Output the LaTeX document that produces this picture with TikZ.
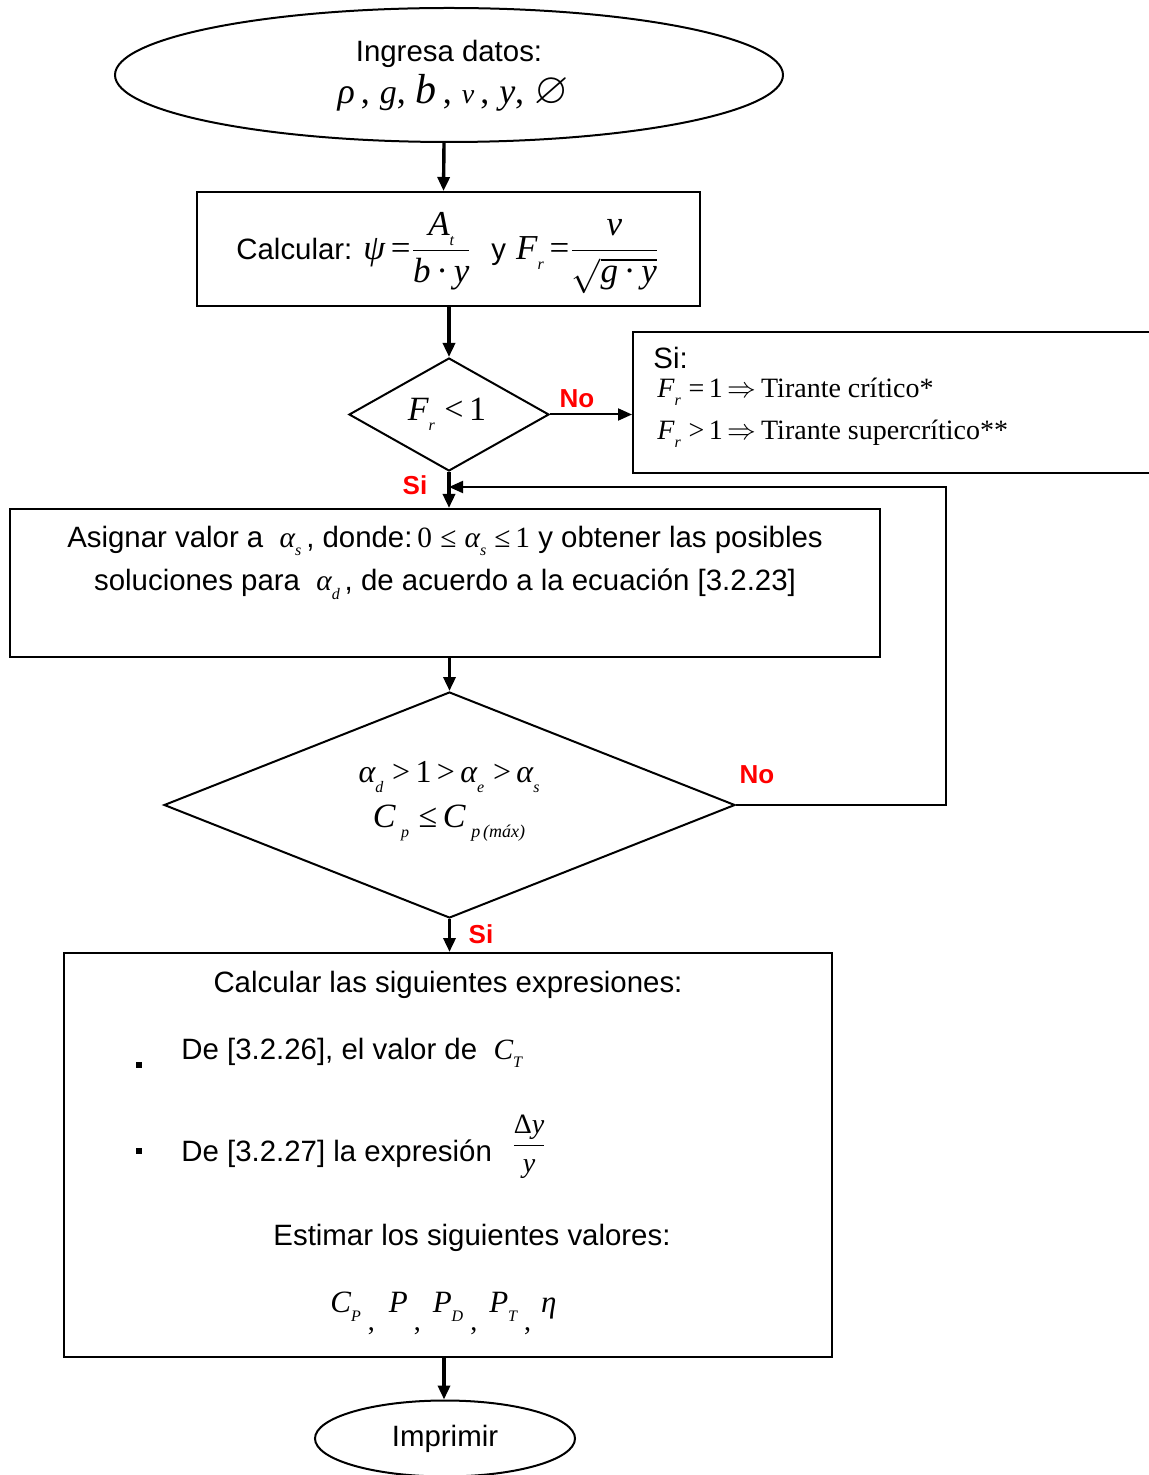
\documentclass[tikz,border=0pt]{standalone}
\usepackage{amsmath,amssymb}
\usepackage{fontspec}
\setmainfont{Liberation Sans}
\newfontfamily\tms{Liberation Serif}
\usetikzlibrary{shapes.geometric,arrows.meta}

% serif variables and subscripts in the formula style of the chart
\newcommand\vi[1]{{\tms\itshape #1}}
\newcommand\vr[1]{{\tms #1}}
\newcommand\sub[1]{\raisebox{-0.55ex}{\tms\itshape\fontsize{8}{8}\selectfont #1}}
\newcommand\lowcomma{\raisebox{-1.1ex}{\tms\fontsize{14}{14}\selectfont ,}}

\tikzset{
  box/.style={draw, line width=1pt, rectangle, inner sep=0pt},
  oval/.style={draw, line width=1pt, ellipse, inner sep=0pt},
  decision/.style={draw, line width=1pt, diamond, inner sep=0pt},
  txt/.style={inner sep=0pt, align=center, font=\fontsize{14.7}{17}\selectfont},
  flow/.style={line width=1.7pt, -{Triangle[length=7pt,width=6pt]}},
  thinflow/.style={line width=1pt, -{Triangle[length=7pt,width=6pt]}},
  answer/.style={inner sep=0pt, text=red, font=\fontsize{13}{15}\selectfont\bfseries},
}

\begin{document}
\begin{tikzpicture}[x=0.5pt,y=-0.5pt]
\useasboundingbox (0,0) rectangle (1148,1475);

% ---- shapes ----
\node[oval, minimum width=334pt, minimum height=67pt] (start) at (449,75) {};
\node[box, minimum width=251.5pt, minimum height=57pt] (calc) at (448.5,249) {};
\node[decision, minimum width=100pt, minimum height=56.5pt] (froude) at (449,414.5) {};
\node[box, minimum width=260pt, minimum height=70.5pt, anchor=north west] (note) at (632,331) {};
\node[box, minimum width=435pt, minimum height=74pt] (assign) at (445,583) {};
\node[decision, minimum width=285.5pt, minimum height=113pt] (check) at (449.5,805) {};
\node[box, minimum width=384pt, minimum height=202pt] (results) at (448,1155) {};
\node[oval, minimum width=130pt, minimum height=38pt] (stop) at (445,1438.5) {};

% ---- texts ----
\node[txt] (tstart1) at (449,54) {Ingresa datos:};
\node[txt, font=\fontsize{18}{20}\selectfont] (tstart2) at (453,93)
  {\vi{ρ}\,\vr{,}\ \vi{\fontsize{17}{17}\selectfont g}\vr{,}\ \vi{\fontsize{21}{21}\selectfont b}\,\vr{,}\ \vi{\fontsize{14}{14}\selectfont v}\,\vr{,}\ \vi{y}\vr{,}\ {\fontsize{22}{22}\selectfont$\varnothing$}};

\node[txt, anchor=west] (tcalc) at (236,253)
  {Calcular: \fontsize{17.5}{20}\selectfont
   $\mbox{\vi{ψ}\,\vr{=}}\dfrac{\mbox{\vi{A}\sub{t}}}{\mbox{\vi{b}\,\vr{·}\,\vi{y}}}$
   \fontsize{14.7}{17}\selectfont\hspace{5pt}y\hspace{5pt}\fontsize{17.5}{20}\selectfont
   $\mbox{\vi{F}\sub{r}\,\vr{=}}\dfrac{\mbox{\vi{v}}}{\sqrt{\mbox{\vi{g}\,\vr{·}\,\vi{y}}}}$};

\node[txt, font=\fontsize{17}{19}\selectfont] (tfroude) at (447,414) {\vi{F}\sub{r}\ \vr{<}\,\vr{1}};

\node[txt, anchor=west] (tnote0) at (653,358) {Si:};
\node[txt, anchor=west, font=\fontsize{14}{17}\selectfont] (tnote1) at (657,392)
  {\vi{F}\sub{r}\ \vr{=}\,\vr{1}\,$\Rightarrow$\,\vr{Tirante crítico*}};
\node[txt, anchor=west, font=\fontsize{14}{17}\selectfont] (tnote2) at (657,434)
  {\vi{F}\sub{r}\ \vr{>}\,\vr{1}\,$\Rightarrow$\,\vr{Tirante supercrítico**}};

\node[txt] (tassign1) at (445,541)
  {Asignar valor a \ \vi{α}\sub{s}\,, donde:\,\vr{0} \vr{≤} \vi{α}\sub{s}\ \vr{≤}\,\vr{1} y obtener las posibles};
\node[txt] (tassign2) at (445,584)
  {soluciones para \ \vi{α}\sub{d}\,, de acuerdo a la ecuación [3.2.23]};

\node[txt, font=\fontsize{16}{18}\selectfont] (tcheck1) at (449,777)
  {\vi{α}\sub{d}\ \vr{>}\,\vr{1}\,\vr{>}\,\vi{α}\sub{e}\ \vr{>}\,\vi{α}\sub{s}};
\node[txt, font=\fontsize{17}{19}\selectfont] (tcheck2) at (449,823)
  {\vi{C}\,\sub{p}\ \vr{≤}\,\vi{C}\,\raisebox{-0.55ex}{\tms\itshape\fontsize{9}{9}\selectfont p\,(máx)}};

\node[txt] (tres1) at (448,985) {Calcular las siguientes expresiones:};
\node[fill, inner sep=0pt, minimum size=3pt] (bul1) at (139,1065) {};
\node[txt, anchor=west] (tres2) at (181,1053)
  {De [3.2.26], el valor de \ \vi{C}\sub{T}};
\node[fill, inner sep=0pt, minimum size=3pt] (bul2) at (139,1151) {};
\node[txt, anchor=west] (tres3) at (181,1154) {De [3.2.27] la expresión};
\node[txt, font=\fontsize{14}{16}\selectfont] (tfrac) at (529,1147)
  {$\dfrac{\mbox{\vr{Δ}\vi{y}}}{\mbox{\vi{y}}}$};
\node[txt] (tres4) at (472,1238) {Estimar los siguientes valores:};
\node[txt, font=\fontsize{15.5}{17}\selectfont, anchor=base west] (tres5) at (330,1312)
  {\vi{C}\sub{P}\hspace{3.5pt}\lowcomma\hspace{7pt}\vi{P}\hspace{3pt}\lowcomma\hspace{6pt}\vi{P}\sub{D}\hspace{3.5pt}\lowcomma\hspace{6pt}\vi{P}\sub{T}\hspace{3.5pt}\lowcomma\hspace{5pt}\vi{η}};

\node[txt] (tstop) at (445,1439) {Imprimir};

% ---- answers on the branches ----
\node[answer] (no1) at (577,399) {No};
\node[answer] (si1) at (415,485) {Si};
\node[answer] (no2) at (757,775) {No};
\node[answer] (si2) at (481,934) {Si};

% ---- connectors ----
\coordinate (loopTop) at (946,487);
\coordinate (merge) at (449,487);
\draw[flow] ([xshift=-2.5pt]start.south) -- ([xshift=-2.5pt]calc.north);
\draw[flow] (calc.south -| froude.north) -- (froude.north);
\draw[thinflow] (froude.east) -- (froude.east -| note.west);
\draw[flow] (froude.south) -- (froude.south |- assign.north);
\draw[flow] (assign.south -| check.north) -- (check.north);
\draw[thinflow] (check.east) -| (loopTop) -- (merge);
\draw[flow] (check.south) -- (check.south |- results.north);
\draw[flow] ([xshift=-2pt]results.south) -- ([xshift=-0.5pt]stop.north);
\end{tikzpicture}
\end{document}
